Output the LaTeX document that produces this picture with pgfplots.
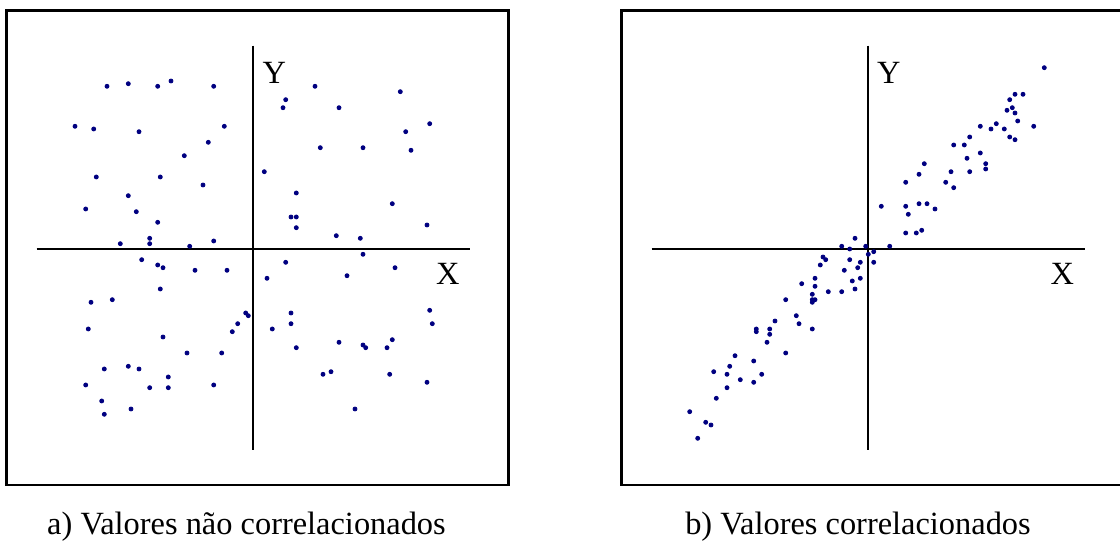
\documentclass[border=0pt]{standalone}
\usepackage{fontspec}
\setmainfont{Liberation Serif}
\usepackage{pgfplots}
\pgfplotsset{compat=1.18}
\definecolor{dotblue}{RGB}{0,0,128}
\begin{document}
\fontsize{16.2}{19}\selectfont
\begin{tikzpicture}
\path[use as bounding box] (0,0) rectangle (560pt,272pt);
\pgfplotsset{panel/.style={
  scale only axis, width=251pt, height=237.15pt,
  ymin=10.7, ymax=485, y dir=reverse,
  xtick=\empty, ytick=\empty,
  axis line style={line width=1.25pt},
  clip=false}}
% ---------------- panel a
\begin{axis}[panel, xmin=6.7, xmax=508.7, at={(128.85pt,148.075pt)}, anchor=center]
\addplot[black, line width=0.85pt] coordinates {(253.3,45.7) (253.3,450)};
\addplot[black, line width=0.85pt] coordinates {(36.7,249) (470,249)};
\addplot[only marks, mark=*, mark size=1pt, dotblue] coordinates {
(107,86.3) (128.3,83.7) (157.7,86.3) (171,81) (213.7,86.3) (75,126.3) (93.7,129) (139,131.7) (224.3,126.3) (208.3,142.3) (184.3,155.7) (96.3,177) (160.3,177) (203,185) (128.3,195.7) (85.7,209) (136.3,211.7) (157.7,222.3) (149.7,238.3) (120.3,243.7) (149.7,243.7) (189.7,246.3) (213.7,241)
(141.7,259.7) (157.7,265) (163,267.7) (195,270.3) (227,270.3) (160.3,289) (91,302.3) (112.3,299.7) (88.3,329) (163,337) (245.7,313) (248.3,315.7) (237.7,323.7) (232.3,331.7) (187,353) (221.7,353) (104.3,369) (128.3,366.3) (139,369) (168.3,377) (85.7,385) (149.7,387.7) (168.3,387.7) (213.7,385) (101.7,401) (104.3,414.3) (131,409)
(315,86.3) (400.3,91.7) (285.7,99.7) (283,107.7) (339,107.7) (429.7,123.7) (405.7,131.7) (320.3,147.7) (363,147.7) (411,150.3) (264.3,171.7) (296.3,193) (392.3,203.7) (291,217) (296.3,217) (296.3,227.7) (427,225) (336.3,235.7) (360.3,238.3)
(363,254.3) (285.7,262.3) (395,267.7) (267,278.3) (347,275.7) (291,313) (291,323.7) (272.3,329) (296.3,347.7) (429.7,310.3) (432.3,323.7) (339,342.3) (363,345) (365.7,347.7) (387,347.7) (392.3,339.7) (323,374.3) (331,371.7) (389.7,374.3) (427,382.3) (355,409)
};
\node[anchor=base west, inner sep=0pt] at (axis cs:262.3,83.3) {Y};
\node[anchor=base west, inner sep=0pt] at (axis cs:435.7,284.3) {X};
\end{axis}
% ---------------- panel b
\begin{axis}[panel, xmin=621.3, xmax=1123.3, at={(436.15pt,148.075pt)}, anchor=center]
\addplot[black, line width=0.85pt] coordinates {(868.3,45.7) (868.3,450)};
\addplot[black, line width=0.85pt] coordinates {(651.7,249) (1085,249)};
\addplot[only marks, mark=*, mark size=1pt, dotblue] coordinates {
(855,238.3) (841.7,246.3) (849.7,249) (865.7,246.3)
(1044.3,67.7) (1015,94.3) (1023,94.3) (1009.7,99.7) (1012.3,107.7) (1007,110.3) (1015,113) (1017.7,121) (980.3,126.3) (996.3,123.7) (991,129) (1004.3,129) (1033.7,126.3) (969.7,137) (1009.7,137) (1015,139.7) (953.7,145) (964.3,145) (980.3,153) (967,158.3) (924.3,163.7) (985.7,163.7) (985.7,169) (919,174.3) (951,171.7) (969.7,171.7) (905.7,182.3) (945.7,182.3) (953.7,187.7) (881.3,206.3) (905.7,206.3) (919,203.7) (927,203.7) (908.3,214.3) (935,209) (905.7,233) (916.3,233) (921.7,230.3) (889.7,246.3)
(868.3,254.3) (873.7,251.7) (873.7,262.3) (823,257) (825.7,259.7) (820.3,265) (849.7,259.7) (860.3,262.3) (857.7,267.7) (844.3,270.3) (815,278.3) (860.3,278.3) (852.3,281) (801.7,283.7) (815,286.3) (855,289) (828.3,291.7) (841.7,291.7) (812.3,294.3) (812.3,299.7) (815,299.7) (812.3,302.3) (785.7,299.7) (796.3,315.7) (799,323.7) (775,321) (812.3,329) (756.3,329) (756.3,331.7) (769.7,329) (769.7,334.3) (767,342.3) (785.7,353) (735,355.7) (729.7,366.3) (753.7,361) (713.7,371.7) (727,374.3) (761.7,374.3) (740.3,379.7) (753.7,382.3) (727,387.7) (716.3,398.3) (689.7,411.7) (705.7,422.3) (711,425) (697.7,438.3)
};
\node[anchor=base west, inner sep=0pt] at (axis cs:876.7,83.3) {Y};
\node[anchor=base west, inner sep=0pt] at (axis cs:1050.3,284.3) {X};
\end{axis}
\node[anchor=base, inner sep=0pt] at (123.25pt,4.5pt) {a) Valores não correlacionados};
\node[anchor=base, inner sep=0pt] at (429pt,4.5pt) {b) Valores correlacionados};
\end{tikzpicture}
\end{document}
